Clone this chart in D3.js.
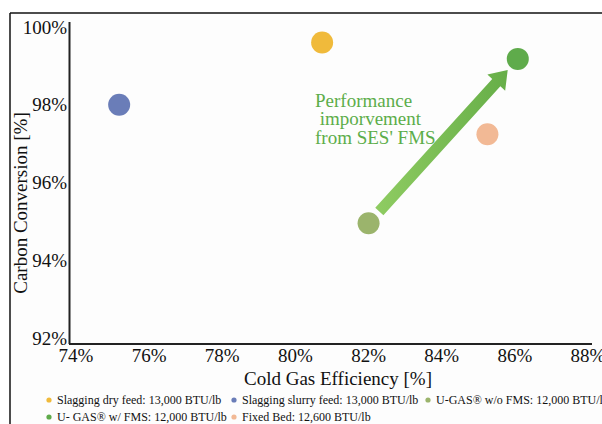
<!DOCTYPE html>
<html>
<head>
<meta charset="utf-8">
<script src="https://cdn.jsdelivr.net/npm/d3@7"></script>
<style>
  html, body { margin: 0; padding: 0; background: #fff; }
  text { font-family: "Liberation Serif", "Times New Roman", serif; }
</style>
</head>
<body>
<div id="chart"></div>
<script>
const series = ["Slagging dry feed: 13,000 BTU/lb", "Slagging slurry feed: 13,000 BTU/lb", "U-GAS® w/o FMS: 12,000 BTU/lb", "U- GAS® w/ FMS: 12,000 BTU/lb", "Fixed Bed: 12,600 BTU/lb"];
const coldGasEff = [80.73, 75.18, 82.0, 86.08, 85.25];
const carbonConv = [99.6, 98.0, 94.95, 99.18, 97.24];
const colors = ["#f0ba3b", "#6a7db8", "#9bb46c", "#5fab4b", "#f2b995"];
const xTicks = [74, 76, 78, 80, 82, 84, 86, 88];
const yTicks = [92, 94, 96, 98, 100];
const noteLines = ["Performance", "\u00a0imporvement", "from SES' FMS"];

const FONT = "Liberation Serif, Times New Roman, serif";
const width = 602, height = 424;
const svg = d3.select("#chart").append("svg").attr("width", width).attr("height", height)
  .attr("font-family", FONT).style("display", "block");

const defs = svg.append("defs");
const grad = defs.append("linearGradient").attr("id", "arrowGrad")
  .attr("x1", "0%").attr("y1", "0%").attr("x2", "100%").attr("y2", "0%");
grad.append("stop").attr("offset", "0%").attr("stop-color", "#8fcc62");
grad.append("stop").attr("offset", "100%").attr("stop-color", "#66ae48");

// frame
svg.append("rect").attr("x", 10).attr("y", 13).attr("width", width).attr("height", height)
  .attr("fill", "#fdfdfd");
svg.append("line").attr("x1", 10).attr("x2", width).attr("y1", 13).attr("y2", 13)
  .attr("stroke", "#111").attr("stroke-width", 1.5);
svg.append("line").attr("x1", 10).attr("x2", 10).attr("y1", 13).attr("y2", height)
  .attr("stroke", "#111").attr("stroke-width", 1.5);

const x = d3.scaleLinear().domain([74, 88]).range([76, 588]);
const y = d3.scaleLinear().domain([92, 100]).range([338, 27]);

// axis lines
svg.append("line").attr("x1", 69.5).attr("x2", 69.5).attr("y1", 22).attr("y2", 344)
  .attr("stroke", "#222").attr("stroke-width", 2);
svg.append("line").attr("x1", 69).attr("x2", 592).attr("y1", 344).attr("y2", 344)
  .attr("stroke", "#222").attr("stroke-width", 2.2);

svg.append("g").selectAll("text").data(yTicks).join("text")
  .attr("font-family", FONT)
  .attr("x", 67).attr("y", (d) => y(d)).attr("dy", "0.35em")
  .attr("text-anchor", "end").attr("font-size", 19).attr("fill", "#111")
  .text((d) => d + "%");

svg.append("g").selectAll("text").data(xTicks).join("text")
  .attr("font-family", FONT)
  .attr("x", (d) => x(d)).attr("y", 355).attr("dy", "0.35em")
  .attr("text-anchor", "middle").attr("font-size", 19).attr("fill", "#111")
  .text((d) => d + "%");

svg.append("text").attr("font-family", FONT).attr("x", 338).attr("y", 378).attr("dy", "0.35em")
  .attr("text-anchor", "middle").attr("font-size", 19).attr("fill", "#111")
  .text("Cold Gas Efficiency [%]");

svg.append("text").attr("font-family", FONT).attr("transform", "translate(20,203) rotate(-90)").attr("dy", "0.35em")
  .attr("text-anchor", "middle").attr("font-size", 19).attr("fill", "#111")
  .text("Carbon Conversion [%]");

// arrow from U-GAS w/o FMS to U-GAS w/ FMS
const p0 = [x(coldGasEff[2]), y(carbonConv[2])];
const p1 = [x(coldGasEff[3]), y(carbonConv[3])];
const dx = p1[0] - p0[0], dy = p1[1] - p0[1];
const len = Math.hypot(dx, dy);
const ux = dx / len, uy = dy / len, nx = -uy, ny = ux;
const start = [p0[0] + ux * 16, p0[1] + uy * 16];
const tip = [p1[0] - ux * 15, p1[1] - uy * 15];
const headLen = 17, shaftW = 5.5, headW = 12;
const base = [tip[0] - ux * headLen, tip[1] - uy * headLen];
const arrowPts = [
  [start[0] + nx * shaftW, start[1] + ny * shaftW],
  [base[0] + nx * shaftW, base[1] + ny * shaftW],
  [base[0] + nx * headW, base[1] + ny * headW],
  tip,
  [base[0] - nx * headW, base[1] - ny * headW],
  [base[0] - nx * shaftW, base[1] - ny * shaftW],
  [start[0] - nx * shaftW, start[1] - ny * shaftW]
];
svg.append("path").attr("d", d3.line()(arrowPts) + "Z").attr("fill", "url(#arrowGrad)");

svg.append("g").selectAll("text").data(noteLines).join("text")
  .attr("font-family", FONT).attr("font-size", 19).attr("fill", "#5cad4a")
  .attr("x", 315).attr("y", (d, i) => 100 + i * 18.5).attr("dy", "0.35em")
  .text((d) => d);

// points
svg.append("g").selectAll("circle").data(series).join("circle")
  .attr("cx", (d, i) => x(coldGasEff[i])).attr("cy", (d, i) => y(carbonConv[i]))
  .attr("r", 11).attr("fill", (d, i) => colors[i]);

// legend
const legendPos = [[49, 400], [234, 400], [428, 400], [49, 417], [234, 417]];
const legend = svg.append("g").selectAll("g").data(series).join("g")
  .attr("transform", (d, i) => `translate(${legendPos[i][0]},${legendPos[i][1]})`);
legend.append("circle").attr("r", 2.6).attr("fill", (d, i) => colors[i]);
legend.append("text").attr("font-family", FONT).attr("x", 8).attr("dy", "0.35em")
  .attr("font-size", 12).attr("fill", "#111")
  .text((d) => d);
</script>
</body>
</html>
